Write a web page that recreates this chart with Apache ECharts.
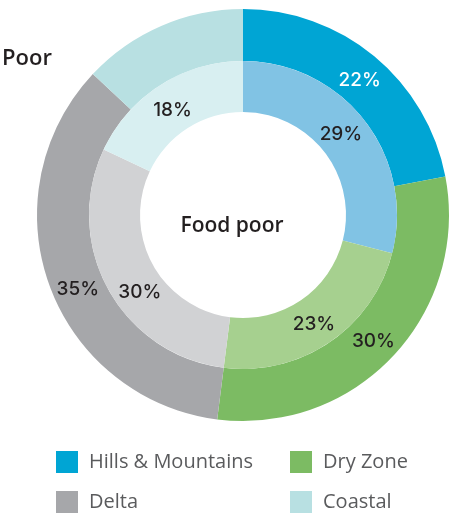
<!DOCTYPE html>
<html>
<head>
<meta charset="utf-8">
<script src="https://cdn.jsdelivr.net/npm/echarts@6/dist/echarts.min.js"></script>
<style>html,body{margin:0;padding:0;background:#fff;}#c{width:451px;height:517px;}</style>
</head>
<body>
<div id="c"></div>
<script>
var categories = ['Hills & Mountains', 'Dry Zone', 'Delta', 'Coastal'];
var poorValues = [22, 30, 35, 13];
var foodPoorValues = [29, 23, 30, 18];
var poorLabelShown = [true, true, true, false];

// styling
var outerColors = ['#00a5d4', '#7cbb63', '#a6a7aa', '#b8e0e2'];
var innerColors = ['#81c3e4', '#a6d08f', '#d1d2d4', '#d8eff1'];
var outerLabelColors = ['#ffffff', '#231f20', '#231f20', '#231f20'];
var outerLabelOffsets = [[0, 6], [-3, 1], [7, 12], [0, 0]];
var innerLabelOffsets = [[-6, 0], [-3, 1], [12, 14], [0, 6]];
var legendPos = [[56, 451], [290, 451], [56, 491], [290, 491]];

var chart = echarts.init(document.getElementById('c'));
var pctFont = { fontFamily: 'Inter', fontSize: 19, fontWeight: 500 };

function buildData(values, colors, labelColors, shown, offsets) {
  return categories.map(function (name, i) {
    return {
      name: name,
      value: values[i],
      itemStyle: { color: colors[i] },
      label: {
        show: shown ? shown[i] : true,
        color: labelColors ? labelColors[i] : '#231f20',
        offset: offsets[i]
      }
    };
  });
}

var legends = categories.map(function (name, i) {
  return {
    orient: 'horizontal', left: legendPos[i][0], top: legendPos[i][1],
    itemWidth: 22, itemHeight: 22, padding: 0,
    icon: 'rect', selectedMode: false,
    textStyle: { fontFamily: 'Open Sans', fontSize: 20, color: '#5a5b5d', padding: [0, 0, 0, 6] },
    data: [name]
  };
});

chart.setOption({
  animation: false,
  legend: legends,
  graphic: [
    { type: 'text', left: 2, top: 48, style: { text: 'Poor', fontFamily: 'Open Sans', fontSize: 22, fontWeight: 600, fill: '#231f20' } },
    { type: 'text', x: 232, y: 226, style: { text: 'Food poor', fontFamily: 'Open Sans', fontSize: 21, fontWeight: 600, fill: '#231f20', align: 'center', verticalAlign: 'middle' } }
  ],
  series: [
    {
      type: 'pie', center: [243, 215], radius: [154, 206], startAngle: 90, clockwise: true,
      silent: true, labelLine: { show: false },
      label: Object.assign({ position: 'inside', formatter: '{c}%' }, pctFont),
      emphasis: { disabled: true },
      data: buildData(poorValues, outerColors, outerLabelColors, poorLabelShown, outerLabelOffsets)
    },
    {
      type: 'pie', center: [243, 215], radius: [103, 154], startAngle: 90, clockwise: true,
      silent: true, labelLine: { show: false },
      label: Object.assign({ position: 'inside', formatter: '{c}%' }, pctFont),
      emphasis: { disabled: true },
      data: buildData(foodPoorValues, innerColors, null, null, innerLabelOffsets)
    }
  ]
});
</script>
</body>
</html>
